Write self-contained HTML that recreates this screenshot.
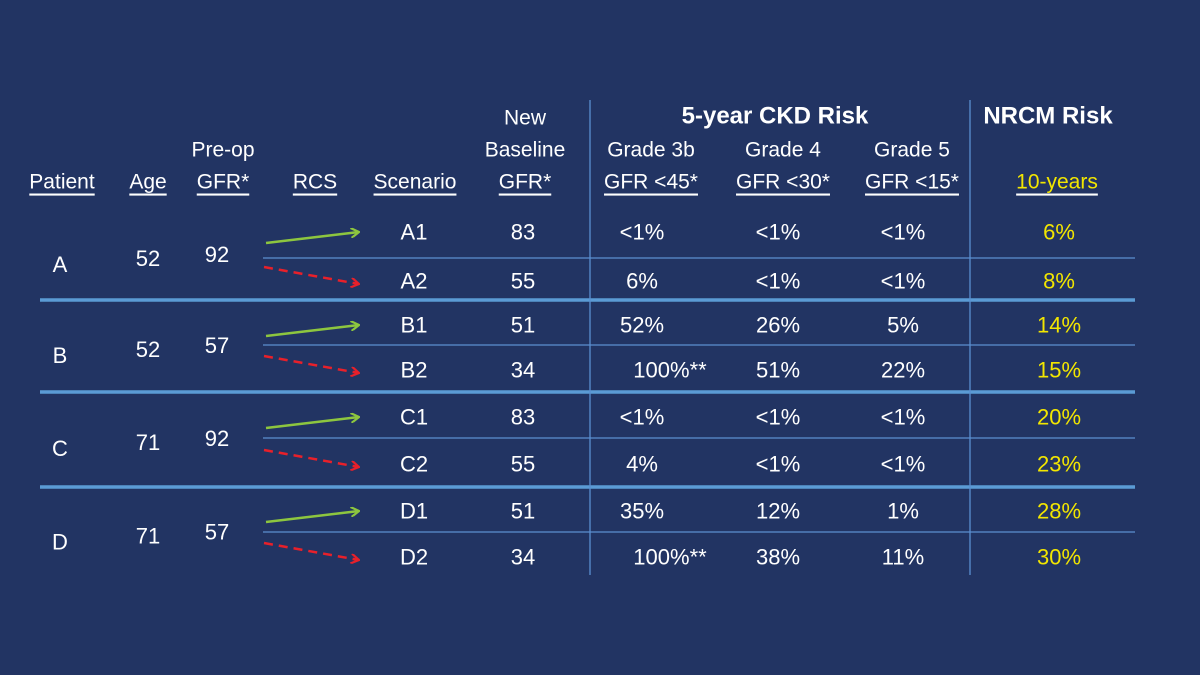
<!DOCTYPE html>
<html><head><meta charset="utf-8"><style>
html,body{margin:0;padding:0;background:#223463;}
svg{display:block;font-family:"Liberation Sans",sans-serif;}
</style></head><body>
<svg id="s" width="1200" height="675" viewBox="0 0 1200 675">
<rect width="1200" height="675" fill="#223463"/>
<defs>
<marker id="ag" markerWidth="10" markerHeight="10" refX="9" refY="5" orient="auto" markerUnits="userSpaceOnUse"><path d="M1,0 L9,5 L1,10" fill="none" stroke="#8dc63f" stroke-width="2.2"/></marker>
<marker id="ar" markerWidth="10" markerHeight="10" refX="9" refY="5" orient="auto" markerUnits="userSpaceOnUse"><path d="M1,0 L9,5 L1,10" fill="none" stroke="#e8202a" stroke-width="2.2"/></marker>
</defs>
<g id="grid"></g>
<g id="hdr" fill="#ffffff" font-size="21" text-anchor="middle" dominant-baseline="central">
<text x="775" y="116" font-size="24" font-weight="bold">5-year CKD Risk</text>
<text x="1048" y="116" font-size="24" font-weight="bold">NRCM Risk</text>
<text x="525" y="118">New</text>
<text x="223" y="150">Pre-op</text>
<text x="525" y="150">Baseline</text>
<text x="651" y="150">Grade 3b</text>
<text x="783" y="150">Grade 4</text>
<text x="912" y="150">Grade 5</text>
<g text-decoration="underline">
<text x="62" y="182">Patient</text>
<text x="148" y="182">Age</text>
<text x="223" y="182">GFR*</text>
<text x="315" y="182">RCS</text>
<text x="415" y="182">Scenario</text>
<text x="525" y="182">GFR*</text>
<text x="651" y="182">GFR &lt;45*</text>
<text x="783" y="182">GFR &lt;30*</text>
<text x="912" y="182">GFR &lt;15*</text>
<text x="1057" y="182" fill="#f2e600">10-years</text>
</g>
</g>
<g id="body" font-size="22" text-anchor="middle" dominant-baseline="central"></g>
</svg>
<script>
const patients=["A","B","C","D"];
const ages=["52","52","71","71"];
const preopGFR=["92","57","92","57"];
const scenarios=["A1","A2","B1","B2","C1","C2","D1","D2"];
const newBaseline=["83","55","51","34","83","55","51","34"];
const grade3b=["<1%","6%","52%","100%**","<1%","4%","35%","100%**"];
const grade4=["<1%","<1%","26%","51%","<1%","<1%","12%","38%"];
const grade5=["<1%","<1%","5%","22%","<1%","<1%","1%","11%"];
const nrcm=["6%","8%","14%","15%","20%","23%","28%","30%"];

const NS="http://www.w3.org/2000/svg";
const rowYs=[232,281,325,370,417,464,511,557];
const thinYs=[258,345,438,532];
const thickYs=[300,392,487];
function rowY(i){return rowYs[i];}
function el(tag,attrs,parent){const e=document.createElementNS(NS,tag);for(const k in attrs)e.setAttribute(k,attrs[k]);parent.appendChild(e);return e;}
const grid=document.getElementById('grid'), body=document.getElementById('body');
thinYs.forEach(y=>{
  const l=el('line',{x1:263,x2:1135,y1:y,y2:y,stroke:'#5b8fd0','stroke-width':1.3},grid);
  
  
});
thickYs.forEach(y=>{
  const t=el('line',{x1:40,x2:1135,y1:y,y2:y,stroke:'#5b9bd5','stroke-width':3.5},grid);
  
  
});
[[590,100,575],[970,100,575]].forEach(v=>{
  const l=el('line',{x1:v[0],x2:v[0],y1:v[1],y2:v[2],stroke:'#5b8fd0','stroke-width':1.3},grid);
  
  
});
function txt(x,y,s,fill,name){const t=el('text',{x:x,y:y,fill:fill},body);t.textContent=s;
  
  return t;}
patients.forEach((p,i)=>{
  const yc=(rowY(2*i)+rowY(2*i+1))/2;
  txt(60,yc+8,p,'#fff','patient-'+p.toLowerCase());
  txt(148,yc+2,ages[i],'#fff','age-'+p.toLowerCase());
  txt(217,yc-2,preopGFR[i],'#fff','preop-gfr-'+p.toLowerCase());
});
scenarios.forEach((s,i)=>{
  const y=rowY(i);
  const green=i%2===0;
  const a=el('line',green?{x1:266,y1:y+11,x2:359,y2:y}:{x1:264,y1:y-14,x2:359,y2:y+3},body);
  a.setAttribute('stroke',green?'#8dc63f':'#e8202a');
  a.setAttribute('stroke-width','2.5');
  if(!green)a.setAttribute('stroke-dasharray','9 6');
  a.setAttribute('marker-end',green?'url(#ag)':'url(#ar)');
  
  
  txt(414,y,s,'#fff','scenario-'+s.toLowerCase());
  txt(523,y,newBaseline[i],'#fff','new-baseline-'+s.toLowerCase());
  const g3=grade3b[i];
  txt(g3.indexOf('**')>=0?670:642,y,g3,'#fff','grade3b-'+s.toLowerCase());
  txt(778,y,grade4[i],'#fff','grade4-'+s.toLowerCase());
  txt(903,y,grade5[i],'#fff','grade5-'+s.toLowerCase());
  txt(1059,y,nrcm[i],'#f2e600','nrcm-'+s.toLowerCase());
});
</script>
</body></html>
